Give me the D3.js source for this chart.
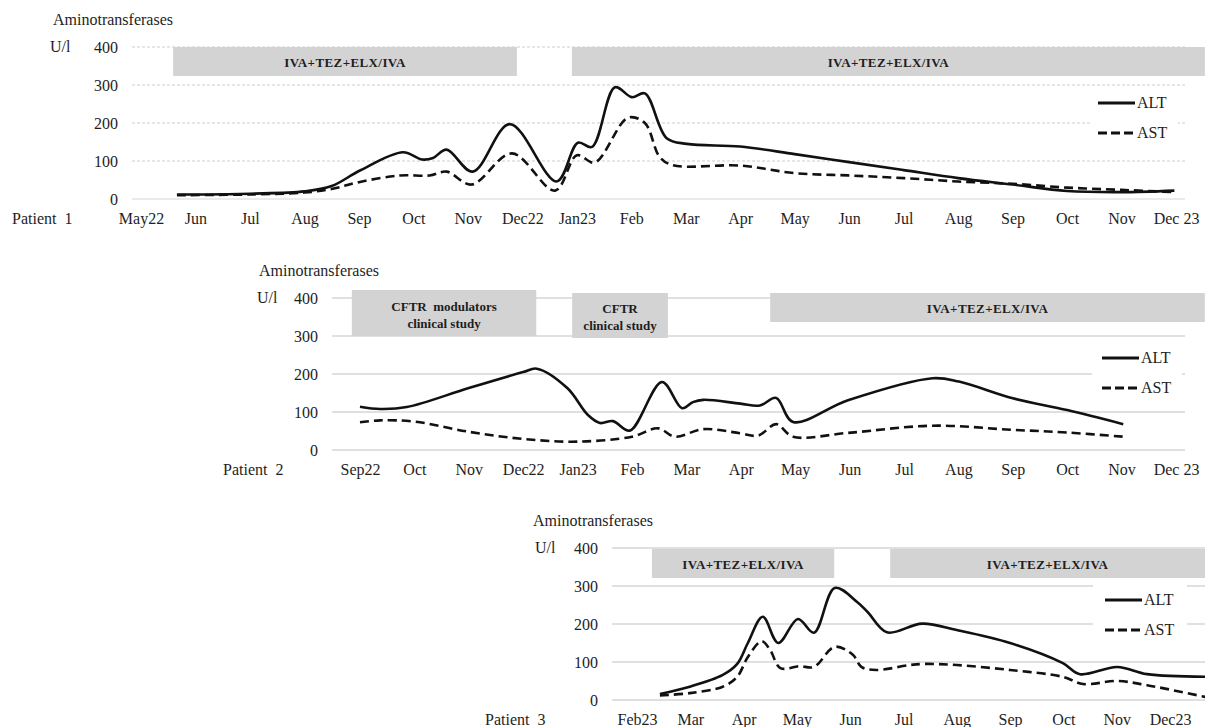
<!DOCTYPE html>
<html>
<head>
<meta charset="utf-8">
<script src="https://cdn.jsdelivr.net/npm/d3@7"></script>
<style>
  html, body { margin: 0; padding: 0; background: #fff; }
  svg text { font-family: "Liberation Serif", "Times New Roman", Tinos, Times, "Nimbus Roman", "DejaVu Serif", serif !important; }
</style>
</head>
<body>
<svg id="chart" width="1205" height="727"></svg>
<script>
// ---------- Patient 1 ----------
const months1 = ["May22","Jun","Jul","Aug","Sep","Oct","Nov","Dec22","Jan23","Feb","Mar","Apr","May","Jun","Jul","Aug","Sep","Oct","Nov","Dec 23"];
// time in months from May22, value in U/l
const alt1Time  = [0.66, 1.0, 2.0, 3.0, 3.5, 4.02, 4.81, 5.16, 5.36, 5.61, 6.09, 6.77, 7.63, 8.02, 8.28, 8.70, 9.01, 9.25, 9.65, 10.02, 11.0, 12.0, 13.0, 14.0, 15.0, 16.0, 17.0, 18.0, 18.97];
const alt1Value = [12,   12,  14,  20,  34,  75,   123,  104,  108,  130,  72,   197,  46,   148,  137,  294,  268,  278,  160,  145,   138,  118,  97,   76,   55,   38,   21,   18,   22];
const ast1Time  = [0.66, 2.0, 3.0, 3.52, 4.02, 4.75, 5.3, 5.61, 6.07, 6.81, 7.6, 8.0, 8.33, 8.94, 9.25, 9.52, 9.76, 11.0, 12.0, 13.0, 14.0, 15.0, 16.0, 17.0, 18.0, 18.97];
const ast1Value = [10,   12,  17,  27,   45,   62,   62,  72,   38,   120,  22,  115, 96,   214,  200,  111,  89,   88,   68,   62,   55,   46,   40,   30,   24,   18];
const treat1Start = [0.59, 7.91];
const treat1End   = [6.90, 19.53];
const treat1Label = [["IVA+TEZ+ELX/IVA"], ["IVA+TEZ+ELX/IVA"]];

// ---------- Patient 2 ----------
const months2 = ["Sep22","Oct","Nov","Dec22","Jan23","Feb","Mar","Apr","May","Jun","Jul","Aug","Sep","Oct","Nov","Dec 23"];
const alt2Time  = [0.0, 0.37, 0.86, 2.0, 3.0, 3.25, 3.81, 4.19, 4.41, 4.65, 4.96, 5.55, 5.92, 6.12, 6.31, 6.99, 7.35, 7.65, 7.96, 8.97, 10.53, 11.01, 12.0, 13.0, 14.03];
const alt2Value = [114, 108,  113,  163, 205, 214,  163,  92,   71,   76,   51,   179,  110,  126,  132,  122,  117,  137,  74,   131,  189,   180,   136,  105,  68];
const ast2Time  = [0.0, 0.37, 0.99, 2.0, 3.0, 4.0, 5.0, 5.48, 5.79, 6.31, 6.99, 7.32, 7.65, 7.96, 8.97, 10.53, 12.0, 13.0, 14.03];
const ast2Value = [73,  78,   75,   48,  29,  22,  35,  57,   35,   55,   44,   38,   68,   35,   45,   64,    53,   46,   35];
const treat2Start = [-0.15, 3.90, 7.54];
const treat2End   = [3.24, 5.66, 15.53];
const treat2Label = [["CFTR  modulators", "clinical study"], ["CFTR", "clinical study"], ["IVA+TEZ+ELX/IVA"]];

// ---------- Patient 3 ----------
const months3 = ["Feb23","Mar","Apr","May","Jun","Jul","Aug","Sep","Oct","Nov","Dec23"];
const alt3Time  = [0.43, 0.99, 1.61, 1.88, 2.08, 2.36, 2.65, 3.02, 3.32, 3.71, 4.13, 4.33, 4.69, 5.35, 6.0, 7.0, 7.99, 8.31, 9.01, 9.57, 10.66];
const alt3Value = [16,   35,   66,   95,   150,  219,  150,  213,  177,  295,  258,  231,  178,  201,  184, 150, 97,   68,   87,   68,   61];
const ast3Time  = [0.43, 0.99, 1.61, 1.88, 2.08, 2.34, 2.5, 2.69, 3.05, 3.32, 3.71, 4.05, 4.21, 4.49, 5.12, 5.4, 6.0, 7.0, 7.99, 8.37, 9.01, 9.57, 10.66];
const ast3Value = [12,   18,   35,   61,   113,  155,  131, 84,   89,   87,   140,  119,  87,   79,   92,   95,  92,  79,  61,   42,   50,   39,   8];
const treat3Start = [0.28, 4.75];
const treat3End   = [3.70, 10.66];
const treat3Label = [["IVA+TEZ+ELX/IVA"], ["IVA+TEZ+ELX/IVA"]];

const yTicks = [0, 100, 200, 300, 400];
const seriesNames = ["ALT", "AST"];
const titleText = "Aminotransferases";
const unitText = "U/l";

// ---------- layout ----------
const panels = [
  {
    patient: "Patient  1", months: months1,
    alt: [alt1Time, alt1Value], ast: [ast1Time, ast1Value],
    treat: [treat1Start, treat1End, treat1Label],
    xFirst: 141, xLast: 1176, gridLeft: 132, gridRight: 1185, y0: 199,
    dottedGrid: true, unitX: 50, titleX: 53, patientX: 12,
    bars: [{top: 47, h: 29}, {top: 47, h: 29}],
    legend: {x: 1098, y: 103, box: [1090, 88, 88, 60]}
  },
  {
    patient: "Patient  2", months: months2,
    alt: [alt2Time, alt2Value], ast: [ast2Time, ast2Value],
    treat: [treat2Start, treat2End, treat2Label],
    xFirst: 360, xLast: 1176, gridLeft: 332, gridRight: 1185, y0: 450,
    dottedGrid: false, unitX: 257, titleX: 259, patientX: 223,
    bars: [{top: 290, h: 46}, {top: 293, h: 45}, {top: 293, h: 29}],
    legend: {x: 1102, y: 358, box: [1092, 343, 90, 60]}
  },
  {
    patient: "Patient  3", months: months3,
    alt: [alt3Time, alt3Value], ast: [ast3Time, ast3Value],
    treat: [treat3Start, treat3End, treat3Label],
    xFirst: 637, xLast: 1170, gridLeft: 612, gridRight: 1205, y0: 700,
    dottedGrid: false, unitX: 535, titleX: 533, patientX: 485,
    bars: [{top: 549, h: 29}, {top: 549, h: 29}],
    legend: {x: 1105, y: 600, box: [1093, 583, 94, 62]}
  }
];

const svg = d3.select("#chart");
const textColor = "#1e1e1e";

panels.forEach(p => {
  const g = svg.append("g");
  const x = d3.scaleLinear().domain([0, p.months.length - 1]).range([p.xFirst, p.xLast]);
  const y = d3.scaleLinear().domain([0, 400]).range([p.y0, p.y0 - 152]);

  // horizontal gridlines
  g.append("g").selectAll("line")
    .data(yTicks)
    .join("line")
    .attr("x1", p.gridLeft).attr("x2", p.gridRight)
    .attr("y1", d => y(d)).attr("y2", d => y(d))
    .attr("stroke", d => (p.dottedGrid && d !== 0) ? "#cdcdcd" : "#d6d6d6")
    .attr("stroke-width", d => p.dottedGrid ? 1 : 1.6)
    .attr("stroke-dasharray", d => (p.dottedGrid && d !== 0) ? "3,2" : null);

  // treatment periods
  const [tStart, tEnd, tLabel] = p.treat;
  tStart.forEach((s, i) => {
    const b = p.bars[i];
    const x0 = x(s), x1 = Math.min(x(tEnd[i]), 1205);
    g.append("rect")
      .attr("x", x0).attr("y", b.top)
      .attr("width", x1 - x0).attr("height", b.h)
      .attr("fill", "#d3d3d3");
    const lines = tLabel[i];
    const cy = b.top + b.h / 2 + 1;
    lines.forEach((ln, k) => {
      const off = lines.length === 1 ? 0 : (k === 0 ? -8 : 9);
      g.append("text")
        .attr("x", (x0 + x1) / 2)
        .attr("y", cy + off)
        .attr("dy", "0.35em")
        .attr("text-anchor", "middle")
        .attr("font-size", 13)
        .attr("font-weight", "bold")
        .attr("letter-spacing", lines.length === 1 ? 0.4 : 0)
        .attr("fill", textColor)
        .style("white-space", "pre")
        .text(ln);
    });
  });

  // legend background
  const L = p.legend;
  g.append("rect")
    .attr("x", L.box[0]).attr("y", L.box[1])
    .attr("width", L.box[2]).attr("height", L.box[3])
    .attr("fill", "#fff");

  // series lines
  const line = d3.line()
    .x(d => x(d[0]))
    .y(d => y(d[1]))
    .curve(d3.curveCatmullRom.alpha(0.5));

  const altPts = p.alt[0].map((t, i) => [t, p.alt[1][i]]);
  const astPts = p.ast[0].map((t, i) => [t, p.ast[1][i]]);

  g.append("path")
    .attr("d", line(astPts))
    .attr("fill", "none")
    .attr("stroke", "#111")
    .attr("stroke-width", 2.6)
    .attr("stroke-dasharray", "9,5");

  g.append("path")
    .attr("d", line(altPts))
    .attr("fill", "none")
    .attr("stroke", "#111")
    .attr("stroke-width", 2.6)
    .attr("stroke-linejoin", "round");

  // legend entries
  seriesNames.forEach((name, k) => {
    const ly = L.y + k * 30;
    g.append("line")
      .attr("x1", L.x).attr("x2", L.x + (k === 0 ? 37 : 35))
      .attr("y1", ly).attr("y2", ly)
      .attr("stroke", "#111")
      .attr("stroke-width", 3)
      .attr("stroke-dasharray", k === 0 ? null : "9,4");
    g.append("text")
      .attr("x", L.x + 39).attr("y", ly)
      .attr("dy", "0.33em")
      .attr("font-size", 16)
      .attr("fill", textColor)
      .text(name);
  });

  // y axis labels
  const yAxis = d3.axisLeft(y).tickValues(yTicks).tickSize(0).tickPadding(14);
  const ya = g.append("g").attr("transform", `translate(${p.gridLeft},0)`).call(yAxis);
  ya.select(".domain").remove();
  ya.attr("font-family", null);
  ya.selectAll("text").attr("font-size", 16).attr("fill", textColor);

  // x axis labels
  const xAxis = d3.axisBottom(x)
    .tickValues(d3.range(p.months.length))
    .tickFormat(i => p.months[i])
    .tickSize(0).tickPadding(14);
  const xa = g.append("g").attr("transform", `translate(0,${p.y0})`).call(xAxis);
  xa.select(".domain").remove();
  xa.attr("font-family", null);
  xa.selectAll("text").attr("font-size", 16).attr("fill", textColor);

  // titles
  g.append("text")
    .attr("x", p.titleX).attr("y", y(400) - 27)
    .attr("dy", "0.33em")
    .attr("font-size", 16).attr("fill", textColor)
    .text(titleText);
  g.append("text")
    .attr("x", p.unitX).attr("y", y(400))
    .attr("dy", "0.33em")
    .attr("font-size", 16).attr("fill", textColor)
    .text(unitText);
  g.append("text")
    .attr("x", p.patientX).attr("y", p.y0 + 20)
    .attr("dy", "0.33em")
    .attr("font-size", 16).attr("fill", textColor)
    .style("white-space", "pre")
    .text(p.patient);
});
</script>
</body>
</html>
